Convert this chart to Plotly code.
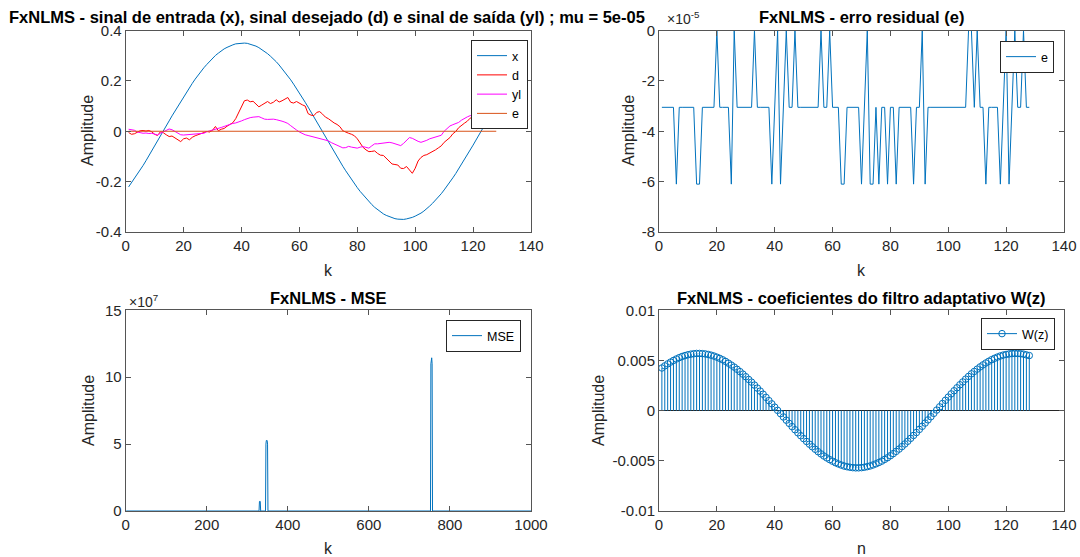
import plotly.graph_objects as go

# ---------------- data ----------------
k = list(range(1, 129))

x_sig = [-0.221, -0.205, -0.189, -0.172, -0.154, -0.136, -0.117, -0.098, -0.078, -0.059,
         -0.039, -0.019, 0.001, 0.021, 0.041, 0.061, 0.080, 0.100, 0.119, 0.137,
         0.156, 0.173, 0.190, 0.207, 0.223, 0.238, 0.252, 0.265, 0.278, 0.290,
         0.301, 0.310, 0.319, 0.327, 0.333, 0.339, 0.343, 0.347, 0.349, 0.350,
         0.350, 0.349, 0.346, 0.343, 0.338, 0.332, 0.325, 0.317, 0.308, 0.298,
         0.288, 0.276, 0.263, 0.249, 0.235, 0.220, 0.204, 0.187, 0.170, 0.152,
         0.134, 0.115, 0.096, 0.076, 0.057, 0.037, 0.017, -0.003, -0.023, -0.043,
         -0.063, -0.082, -0.102, -0.121, -0.139, -0.157, -0.175, -0.192, -0.208, -0.224,
         -0.239, -0.253, -0.267, -0.279, -0.291, -0.302, -0.311, -0.320, -0.328, -0.334,
         -0.339, -0.344, -0.347, -0.349, -0.350, -0.350, -0.348, -0.346, -0.342, -0.337,
         -0.332, -0.325, -0.317, -0.308, -0.297, -0.286, -0.274, -0.262, -0.248, -0.233,
         -0.218, -0.202, -0.185, -0.168, -0.150, -0.132, -0.113, -0.094, -0.074, -0.055,
         -0.035, -0.015, 0.005, 0.025, 0.045, 0.065, 0.084, 0.104]

d_sig = [-0.005, -0.012, -0.010, -0.003, 0.002, 0.003, 0.001, 0.003, -0.002, -0.012,
         -0.017, -0.002, -0.006, -0.014, -0.021, -0.019, -0.027, -0.036, -0.041, -0.030,
         -0.027, -0.034, -0.024, -0.018, -0.013, -0.009, -0.004, -0.001, -0.003, 0.004,
         0.019, 0.002, 0.008, 0.011, 0.020, 0.028, 0.034, 0.050, 0.075, 0.100,
         0.121, 0.124, 0.117, 0.119, 0.106, 0.097, 0.104, 0.112, 0.118, 0.110,
         0.115, 0.125, 0.116, 0.121, 0.128, 0.134, 0.115, 0.112, 0.118, 0.110,
         0.105, 0.100, 0.070, 0.064, 0.062, 0.075, 0.078, 0.068, 0.056, 0.050,
         0.041, 0.033, 0.027, 0.018, 0.002, -0.004, -0.008, -0.012, -0.018, -0.030,
         -0.048, -0.064, -0.074, -0.081, -0.080, -0.078, -0.088, -0.095, -0.096, -0.108,
         -0.120, -0.130, -0.132, -0.134, -0.147, -0.148, -0.140, -0.155, -0.167, -0.147,
         -0.118, -0.104, -0.096, -0.093, -0.087, -0.083, -0.074, -0.066, -0.058, -0.044,
         -0.035, -0.025, -0.010, -0.001, 0.014, 0.024, 0.032, 0.040, 0.052, 0.058,
         0.066, 0.075, 0.080, 0.089, 0.095, 0.101, 0.107, 0.112]

yl_sig = [0.008, 0.007, 0.004, -0.003, -0.006, -0.008, -0.007, -0.009, -0.008, -0.012,
          -0.015, -0.008, -0.002, 0.004, 0.009, 0.006, 0.000, -0.008, -0.014, -0.015,
          -0.014, -0.015, -0.013, -0.012, -0.012, -0.011, -0.008, -0.002, 0.001, 0.004,
          0.006, 0.011, 0.015, 0.019, 0.024, 0.027, 0.031, 0.033, 0.036, 0.041,
          0.046, 0.051, 0.054, 0.056, 0.057, 0.058, 0.053, 0.048, 0.047, 0.048,
          0.048, 0.046, 0.044, 0.040, 0.036, 0.031, 0.022, 0.015, 0.005, -0.003,
          -0.009, -0.014, -0.017, -0.020, -0.022, -0.025, -0.028, -0.030, -0.034, -0.038,
          -0.045, -0.050, -0.055, -0.061, -0.066, -0.065, -0.060, -0.063, -0.066, -0.067,
          -0.063, -0.061, -0.064, -0.067, -0.058, -0.050, -0.050, -0.048, -0.047, -0.045,
          -0.044, -0.046, -0.049, -0.054, -0.057, -0.048, -0.036, -0.025, -0.028, -0.035,
          -0.040, -0.044, -0.041, -0.036, -0.030, -0.026, -0.023, -0.021, -0.016, 0.000,
          0.012, 0.021, 0.026, 0.030, 0.035, 0.044, 0.052, 0.057, 0.062, 0.066,
          0.070, 0.074, 0.077, 0.080, 0.083, 0.086, 0.088, 0.090]

e_sig = [-3.05e-05, -3.05e-05, -3.05e-05, -3.05e-05, -3.05e-05, -6.10e-05, -3.05e-05, -3.05e-05,
         -3.05e-05, -3.05e-05, -3.05e-05, -3.05e-05, -6.10e-05, -6.10e-05, -3.05e-05, -3.05e-05,
         -3.05e-05, -3.05e-05, -3.05e-05, 0.0, -3.05e-05, -3.05e-05, -3.05e-05, -3.05e-05,
         -6.10e-05, 0.0, -3.05e-05, -3.05e-05, -3.05e-05, -3.05e-05, -3.05e-05, -3.05e-05,
         0.0, -3.05e-05, -3.05e-05, -3.05e-05, -3.05e-05, -3.05e-05, -6.10e-05, -3.05e-05,
         0.0, -6.10e-05, -3.05e-05, 0.0, -3.05e-05, -3.05e-05, 0.0, -3.05e-05,
         -3.05e-05, -3.05e-05, -3.05e-05, -3.05e-05, -3.05e-05, -3.05e-05, -3.05e-05, 0.0,
         -3.05e-05, -3.05e-05, 0.0, -3.05e-05, -3.05e-05, -3.05e-05, -6.10e-05, -6.10e-05,
         -3.05e-05, -3.05e-05, -3.05e-05, -3.05e-05, -3.05e-05, -6.10e-05, -3.05e-05, 0.0,
         -6.10e-05, -6.10e-05, -3.05e-05, -6.10e-05, -3.05e-05, -3.05e-05, -6.10e-05, -3.05e-05,
         -3.05e-05, -6.10e-05, -3.05e-05, -3.05e-05, -3.05e-05, -3.05e-05, -3.05e-05, -6.10e-05,
         -3.05e-05, -3.05e-05, 0.0, -6.10e-05, -3.05e-05, -3.05e-05, -3.05e-05, -3.05e-05,
         -3.05e-05, -3.05e-05, -3.05e-05, -3.05e-05, -3.05e-05, -3.05e-05, -3.05e-05, -3.05e-05,
         -3.05e-05, -3.05e-05, 0.0, 0.0, -3.05e-05, 0.0, -3.05e-05, -3.05e-05,
         -6.10e-05, -3.05e-05, -3.05e-05, -3.05e-05, -3.05e-05, -6.10e-05, -3.05e-05, 0.0,
         -6.10e-05, -3.05e-05, 0.0, -3.05e-05, -3.05e-05, 0.0, -3.05e-05, -3.05e-05]

mse_k = [1, 329, 330, 331, 332, 333, 345, 346, 347, 349, 350, 351, 752, 753, 754, 755, 756, 757, 1000]
mse_v = [0, 0, 7.0e6, 7.5e6, 7.0e6, 0, 0, 5.0e7, 5.27e7, 5.27e7, 5.0e7, 0, 0, 1.10e8, 1.145e8, 1.145e8, 1.10e8, 0, 0]

w_coef = [0.00425, 0.00446, 0.00466, 0.00484, 0.00500, 0.00515, 0.00528, 0.00540, 0.00549, 0.00557,
          0.00563, 0.00567, 0.00570, 0.00570, 0.00568, 0.00565, 0.00560, 0.00553, 0.00544, 0.00533,
          0.00521, 0.00507, 0.00491, 0.00473, 0.00454, 0.00434, 0.00412, 0.00389, 0.00364, 0.00338,
          0.00311, 0.00284, 0.00255, 0.00225, 0.00195, 0.00164, 0.00132, 0.00100, 0.00068, 0.00035,
          0.00003, -0.00030, -0.00063, -0.00095, -0.00127, -0.00159, -0.00190, -0.00221, -0.00250, -0.00279,
          -0.00307, -0.00334, -0.00360, -0.00385, -0.00409, -0.00431, -0.00452, -0.00471, -0.00488, -0.00504,
          -0.00519, -0.00531, -0.00542, -0.00552, -0.00559, -0.00564, -0.00568, -0.00570, -0.00570, -0.00568,
          -0.00564, -0.00558, -0.00551, -0.00541, -0.00530, -0.00517, -0.00503, -0.00486, -0.00469, -0.00449,
          -0.00428, -0.00406, -0.00383, -0.00358, -0.00332, -0.00305, -0.00276, -0.00247, -0.00218, -0.00187,
          -0.00156, -0.00124, -0.00092, -0.00060, -0.00027, 0.00006, 0.00038, 0.00071, 0.00103, 0.00135,
          0.00167, 0.00198, 0.00228, 0.00258, 0.00286, 0.00314, 0.00341, 0.00367, 0.00391, 0.00414,
          0.00436, 0.00456, 0.00475, 0.00492, 0.00508, 0.00522, 0.00534, 0.00545, 0.00554, 0.00560,
          0.00565, 0.00569, 0.00570, 0.00569, 0.00567, 0.00563, 0.00556, 0.00549]

# tick labels
k_ticks = [0, 20, 40, 60, 80, 100, 120, 140]
mse_ticks = [0, 200, 400, 600, 800, 1000]
y1_vals, y1_text = [-0.4, -0.2, 0, 0.2, 0.4], ['-0.4', '-0.2', '0', '0.2', '0.4']
y2_vals, y2_text = [-8e-5, -6e-5, -4e-5, -2e-5, 0], ['-8', '-6', '-4', '-2', '0']
y3_vals, y3_text = [0, 5e7, 1e8, 1.5e8], ['0', '5', '10', '15']
y4_vals, y4_text = [-0.01, -0.005, 0, 0.005, 0.01], ['-0.01', '-0.005', '0', '0.005', '0.01']

# ---------------- style ----------------
W, H = 1080, 557
FONT = "Liberation Sans, Arial, sans-serif"
BLUE = '#0072BD'
AX = '#262626'

def px(xp):
    return xp / W

def py(yp):
    return 1 - yp / H

XD_L = [px(125.7), px(531)]
XD_R = [px(659), px(1064)]
YD_T = [py(232), py(30.5)]
YD_B = [py(511), py(310.3)]

def axis(**kw):
    d = dict(showline=True, linecolor='#555555', linewidth=1, mirror='ticks',
             ticks='inside', ticklen=5, tickcolor='#555555', tickwidth=1,
             showgrid=False, zeroline=False, automargin=False,
             tickfont=dict(family=FONT, size=15, color=AX))
    d.update(kw)
    return d

fig = go.Figure()

LW = 1
# top-left
fig.add_trace(go.Scatter(x=k, y=x_sig, mode='lines', name='x', line=dict(color=BLUE, width=LW),
                         xaxis='x', yaxis='y', legend='legend'))
fig.add_trace(go.Scatter(x=k, y=d_sig, mode='lines', name='d', line=dict(color='#FF0000', width=LW),
                         xaxis='x', yaxis='y', legend='legend'))
fig.add_trace(go.Scatter(x=k, y=yl_sig, mode='lines', name='yl', line=dict(color='#FF00FF', width=LW),
                         xaxis='x', yaxis='y', legend='legend'))
fig.add_trace(go.Scatter(x=k, y=e_sig, mode='lines', name='e', line=dict(color='#D95319', width=LW),
                         xaxis='x', yaxis='y', legend='legend'))
# top-right
fig.add_trace(go.Scatter(x=k, y=e_sig, mode='lines', name='e', line=dict(color=BLUE, width=LW),
                         xaxis='x2', yaxis='y2', legend='legend2'))
# bottom-left
fig.add_trace(go.Scatter(x=mse_k, y=mse_v, mode='lines', name='MSE', line=dict(color=BLUE, width=LW),
                         xaxis='x3', yaxis='y3', legend='legend3'))
# bottom-right stems
sx, sy = [], []
for n, w in zip(k, w_coef):
    sx += [n, n, None]
    sy += [0, w, None]
fig.add_trace(go.Scatter(x=sx, y=sy, mode='lines', line=dict(color=BLUE, width=LW),
                         showlegend=False, xaxis='x4', yaxis='y4', hoverinfo='skip'))
fig.add_trace(go.Scatter(x=k, y=w_coef, mode='markers', showlegend=False,
                         marker=dict(symbol='circle-open', size=6.5, color=BLUE, line=dict(width=1, color=BLUE)),
                         xaxis='x4', yaxis='y4'))
fig.add_trace(go.Scatter(x=[None], y=[None], mode='lines+markers', name='W(z)',
                         line=dict(color=BLUE, width=LW),
                         marker=dict(symbol='circle-open', size=6.5, color=BLUE, line=dict(width=1, color=BLUE)),
                         xaxis='x4', yaxis='y4', legend='legend4'))

title_font = dict(family=FONT, size=16.5, color='black')
lab_font = dict(family=FONT, size=16, color=AX)
leg_font = dict(family=FONT, size=12.5, color='black')

def legend(xr, yt):
    return dict(x=px(xr), y=py(yt), xanchor='right', yanchor='top', bgcolor='white',
                bordercolor=AX, borderwidth=1, font=leg_font, itemwidth=30, tracegroupgap=0)

fig.update_layout(
    width=W, height=H, margin=dict(l=0, r=0, t=0, b=0, pad=0, autoexpand=False),
    paper_bgcolor='white', plot_bgcolor='white',
    font=dict(family=FONT, color=AX),
    xaxis=axis(domain=XD_L, anchor='y', range=[0, 140], tickvals=k_ticks),
    yaxis=axis(domain=YD_T, anchor='x', range=[-0.4, 0.4], tickvals=y1_vals, ticktext=y1_text),
    xaxis2=axis(domain=XD_R, anchor='y2', range=[0, 140], tickvals=k_ticks),
    yaxis2=axis(domain=YD_T, anchor='x2', range=[-8e-5, 0], tickvals=y2_vals, ticktext=y2_text),
    xaxis3=axis(domain=XD_L, anchor='y3', range=[0, 1000], tickvals=mse_ticks),
    yaxis3=axis(domain=YD_B, anchor='x3', range=[0, 1.5e8], tickvals=y3_vals, ticktext=y3_text),
    xaxis4=axis(domain=XD_R, anchor='y4', range=[0, 140], tickvals=k_ticks),
    yaxis4=axis(domain=YD_B, anchor='x4', range=[-0.01, 0.01], tickvals=y4_vals, ticktext=y4_text,
                zeroline=True, zerolinecolor=AX, zerolinewidth=1),
    legend=legend(528, 40),
    legend2=legend(1054, 41),
    legend3=legend(521, 320),
    legend4=legend(1055, 318),
    showlegend=True,
)

def ann(text, xp, yp, font, xanchor='center', angle=0):
    fig.add_annotation(text=text, x=px(xp), y=py(yp), xref='paper', yref='paper',
                       xanchor=xanchor, yanchor='middle', showarrow=False, font=font,
                       textangle=angle)

# titles
ann('<b>FxNLMS - sinal de entrada (x), sinal desejado (d) e sinal de saída (yl) ; mu = 5e-05</b>',
    327, 17, title_font)
ann('<b>FxNLMS - erro residual (e)</b>', 861.5, 17, title_font)
ann('<b>FxNLMS - MSE</b>', 328.3, 298, title_font)
ann('<b>FxNLMS - coeficientes do filtro adaptativo W(z)</b>', 861.5, 298, title_font)
# exponent labels
ann('×10<sup>-5</sup>', 665, 18, dict(family=FONT, size=14, color=AX), xanchor='left')
ann('×10<sup>7</sup>', 127, 301, dict(family=FONT, size=14, color=AX), xanchor='left')
# axis labels
ann('Amplitude', 88, 131, lab_font, angle=-90)
ann('Amplitude', 629, 131, lab_font, angle=-90)
ann('Amplitude', 88, 411, lab_font, angle=-90)
ann('Amplitude', 598, 411, lab_font, angle=-90)
ann('k', 328.3, 270, lab_font)
ann('k', 861.5, 270, lab_font)
ann('k', 328.3, 548, lab_font)
ann('n', 861.5, 548, lab_font)

fig.write_html("out.html")
